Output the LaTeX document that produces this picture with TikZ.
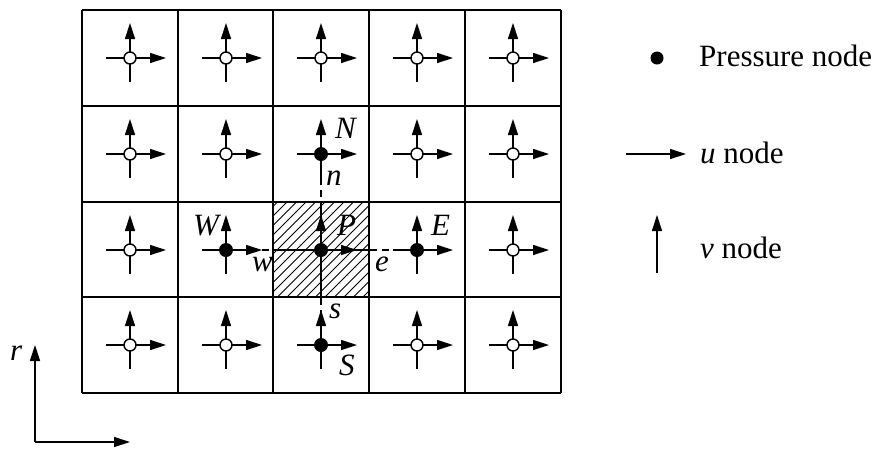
\documentclass[tikz,border=0pt]{standalone}
\usepackage{fontspec}
\setmainfont{Liberation Serif}
\usetikzlibrary{arrows.meta}
\tikzset{
  arr/.style={line width=1.3pt,-{Triangle[length=16pt,width=10pt]}},
  gridline/.style={line width=2pt},
  onode/.style={circle,draw,line width=1.4pt,fill=white,minimum size=12pt,inner sep=0pt},
  pnode/.style={circle,fill=black,minimum size=14pt,inner sep=0pt},
  lbl/.style={anchor=base west,inner sep=0pt,font=\fontsize{31}{31}\selectfont\itshape},
  txt/.style={anchor=base west,inner sep=0pt,font=\fontsize{31}{31}\selectfont},
  dashline/.style={line width=1.2pt,dash pattern=on 7pt off 5pt}
}
\begin{document}
\begin{tikzpicture}[x=1pt,y=-1pt]
\useasboundingbox (0,0) rectangle (879,448);
% hatched cell
\begin{scope}
\clip (273,202) rectangle (369,297);
\foreach \i in {-100,-90.5,...,100}
  \draw[line width=0.8pt] (273+\i,297) -- ++(100,-100);
\end{scope}
% dashed lines through P
\coordinate (Nc) at (321,154);
\coordinate (Sc) at (321,345);
\coordinate (Wc) at (226,250);
\coordinate (Ec) at (417,250);
\draw[dashline] (Nc) -- (Sc);
\draw[dashline] (Wc) -- (Ec);
\draw[line width=1.3pt] (273,250) -- (369,250);
\draw[line width=1.3pt] (321,202) -- (321,297);
% grid
\foreach \gx in {82,178,273,369,465,561}
  \draw[gridline] (\gx,10) -- (\gx,393);
\foreach \gy in {10,106,202,297,393}
  \draw[gridline] (82,\gy) -- (561,\gy);
% cell arrows and nodes
\foreach \cx in {130,226,321,417,513}{
  \foreach \cy in {58,154,250,345}{
    \draw[arr] (\cx-24,\cy) -- (\cx+36,\cy);
    \draw[arr] (\cx,\cy+24) -- (\cx,\cy-35);
  }
}
\foreach \cx [count=\i] in {130,226,321,417,513}{
  \foreach \cy [count=\j] in {58,154,250,345}{
    \pgfmathtruncatemacro{\isP}{
      (\i==3 && \j==2) || (\i==2 && \j==3) || (\i==3 && \j==3) || (\i==4 && \j==3) || (\i==3 && \j==4)}
    \ifnum\isP=1
      \node[pnode] (c\i\j) at (\cx,\cy) {};
    \else
      \node[onode] (c\i\j) at (\cx,\cy) {};
    \fi
  }
}
% labels
\node[lbl] (lN) at (335,138) {N};
\node[lbl] (ln) at (326,185) {n};
\node[lbl] (lP) at (337,235) {P};
\node[lbl] (lW) at (193,235) {W};
\node[lbl] (lE) at (431,235) {E};
\node[lbl] (lw) at (252,271) {w};
\node[lbl] (le) at (375,271) {e};
\node[lbl] (ls) at (329,318) {s};
\node[lbl] (lS) at (339,375) {S};
% axes
\coordinate (O) at (35,442);
\coordinate (Rt) at (35,345);
\coordinate (Xt) at (130,442);
\draw[arr] (O) -- (Rt);
\draw[arr] (O) -- (Xt);
\node[lbl] (lr) at (10,360) {r};
% legend
\node[pnode,minimum size=13pt] (legP) at (657,58) {};
\node[txt] (tP) at (699,66) {Pressure node};
\coordinate (u1) at (626,154);
\coordinate (u2) at (686,154);
\draw[arr] (u1) -- (u2);
\node[txt] (tu) at (700,163) {\textit{u} node};
\coordinate (v1) at (657,273);
\coordinate (v2) at (657,215);
\draw[arr] (v1) -- (v2);
\node[txt] (tv) at (700,258) {\textit{v} node};
\end{tikzpicture}
\end{document}
